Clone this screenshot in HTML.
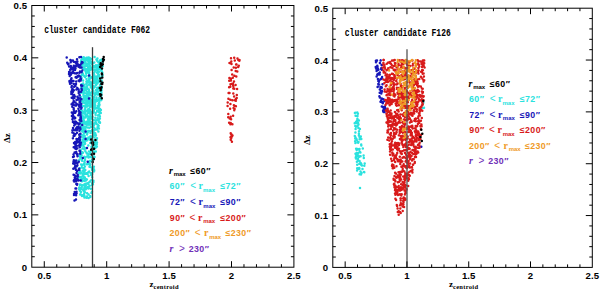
<!DOCTYPE html>
<html><head><meta charset="utf-8"><style>
html,body{margin:0;padding:0;background:#fff;width:600px;height:294px;overflow:hidden}
svg{display:block}
.tl{font-family:"Liberation Sans", sans-serif;font-weight:bold;font-size:9.6px;letter-spacing:0.1px}
.tly{font-size:9.6px}
.ti{font-family:"Liberation Mono", monospace;font-weight:bold;font-size:10px}
.ax{font-family:"Liberation Serif", serif;font-weight:bold;font-size:9px}
.sub{font-size:6.5px;letter-spacing:0.3px}
.lg{font-family:"Liberation Sans", sans-serif;font-weight:bold;font-size:8.8px;letter-spacing:0.45px}
.lt{font-size:10px;font-weight:normal;letter-spacing:0}
.li{font-style:italic}
.lr{font-family:"Liberation Serif", serif;font-weight:bold;font-size:10px}
.lm{font-family:"Liberation Sans", sans-serif;font-weight:bold;font-size:6px}
</style></head><body>
<svg width="600" height="294" viewBox="0 0 600 294">
<path stroke="#2ae2de" stroke-width="2.5" stroke-linecap="round" fill="none" d="M98.3 73.6h0M87.3 106.4h0M94.7 100.7h0M98.7 125.8h0M89.6 105.7h0M86.6 121.7h0M81.9 110.6h0M91.0 68.7h0M84.8 76.4h0M94.0 66.5h0M99.1 119.4h0M99.6 109.9h0M90.2 93.1h0M99.3 105.5h0M86.3 75.8h0M94.3 82.9h0M94.2 77.6h0M90.4 69.9h0M91.2 68.0h0M86.9 91.8h0M91.2 77.4h0M86.0 72.5h0M97.8 118.2h0M94.2 70.0h0M86.1 72.3h0M92.7 63.2h0M85.6 103.3h0M98.7 107.0h0M87.3 88.3h0M85.2 70.1h0M86.5 89.3h0M87.8 127.5h0M98.0 69.3h0M88.7 71.9h0M86.6 94.0h0M91.2 77.6h0M83.3 59.0h0M83.7 111.6h0M88.1 81.2h0M89.6 94.7h0M89.8 121.1h0M101.3 92.1h0M94.3 108.6h0M95.3 82.4h0M100.2 60.4h0M81.7 100.9h0M82.1 112.7h0M96.7 129.5h0M92.0 91.8h0M84.1 88.1h0M102.4 75.8h0M95.6 108.4h0M99.3 94.8h0M99.0 121.3h0M94.6 128.5h0M87.1 102.0h0M81.0 61.9h0M83.6 96.2h0M91.6 69.1h0M88.4 96.9h0M96.2 107.8h0M88.8 121.5h0M97.7 67.4h0M81.5 87.2h0M102.4 73.0h0M81.2 60.3h0M87.7 103.7h0M84.4 59.7h0M85.3 88.2h0M89.7 118.4h0M93.6 86.2h0M101.3 93.8h0M90.3 116.1h0M92.1 84.3h0M92.5 116.7h0M85.7 123.1h0M99.9 118.5h0M84.0 117.4h0M88.0 72.6h0M89.9 107.1h0M87.7 57.8h0M94.2 81.6h0M90.1 113.8h0M91.4 113.4h0M98.4 111.7h0M101.6 90.3h0M82.2 90.3h0M82.7 116.0h0M91.3 77.2h0M93.5 88.3h0M81.0 126.5h0M86.4 69.4h0M96.0 65.2h0M83.5 126.9h0M84.2 67.0h0M97.9 115.6h0M89.7 61.1h0M96.1 85.1h0M94.9 103.7h0M87.6 94.6h0M91.2 83.8h0M87.7 59.5h0M98.3 74.8h0M87.1 87.1h0M85.7 117.3h0M97.1 78.4h0M92.1 88.5h0M95.8 92.6h0M81.7 61.9h0M82.9 128.3h0M86.9 124.1h0M97.2 60.5h0M90.2 65.9h0M98.7 115.6h0M90.2 110.1h0M88.8 61.8h0M83.8 113.5h0M88.0 116.2h0M80.3 106.8h0M82.1 65.1h0M84.0 61.8h0M86.6 96.0h0M87.6 105.6h0M89.2 123.2h0M89.1 90.4h0M92.6 88.6h0M83.7 90.6h0M97.1 110.9h0M82.1 87.5h0M95.3 79.2h0M86.2 65.8h0M86.0 69.3h0M85.3 62.8h0M100.1 109.1h0M97.7 119.1h0M83.7 75.5h0M89.0 124.8h0M83.9 86.4h0M99.0 103.1h0M93.7 66.0h0M89.1 110.2h0M88.2 110.4h0M97.4 88.2h0M93.8 67.4h0M101.4 84.1h0M89.4 127.7h0M85.8 124.2h0M92.8 90.5h0M85.6 96.1h0M100.2 112.2h0M88.2 119.7h0M102.6 75.6h0M96.4 99.3h0M94.7 71.7h0M93.3 123.6h0M90.2 59.6h0M96.2 100.1h0M95.8 80.4h0M99.3 66.7h0M93.2 77.2h0M92.5 100.9h0M100.2 84.8h0M90.7 87.2h0M80.8 97.0h0M88.4 113.0h0M86.5 104.8h0M83.5 85.6h0M93.4 100.2h0M89.6 75.6h0M97.4 89.6h0M87.2 122.5h0M88.4 92.9h0M86.9 111.5h0M89.7 103.3h0M80.6 76.0h0M84.7 109.5h0M89.6 79.0h0M92.3 89.2h0M92.9 77.3h0M96.9 79.5h0M88.5 61.7h0M81.6 75.2h0M88.3 124.0h0M97.2 68.1h0M87.2 98.4h0M85.3 61.0h0M93.1 76.5h0M99.8 78.2h0M97.1 69.7h0M99.8 90.5h0M87.1 97.9h0M91.1 105.5h0M101.8 65.9h0M82.9 102.4h0M96.5 100.7h0M94.6 57.1h0M99.5 98.9h0M100.8 113.1h0M86.4 81.6h0M89.0 102.9h0M98.7 82.1h0M81.9 117.9h0M92.7 102.8h0M87.3 85.5h0M88.3 94.9h0M95.1 122.9h0M99.8 89.9h0M100.0 122.8h0M94.1 77.8h0M87.0 100.1h0M81.1 88.6h0M99.6 61.7h0M92.6 102.3h0M84.0 121.0h0M88.4 81.1h0M81.6 118.9h0M97.3 76.2h0M101.6 80.5h0M85.5 89.7h0M90.8 86.4h0M94.2 102.9h0M86.0 100.0h0M100.4 110.5h0M99.8 66.4h0M101.5 69.2h0M84.7 110.9h0M87.1 124.8h0M97.3 61.1h0M94.0 93.6h0M87.1 110.9h0M81.8 72.1h0M86.2 87.4h0M85.4 129.3h0M83.0 84.8h0M97.8 124.7h0M81.2 116.8h0M83.3 123.0h0M83.6 126.6h0M83.3 101.2h0M90.5 85.8h0M80.9 92.0h0M93.9 125.2h0M96.5 97.4h0M97.1 70.3h0M83.5 98.6h0M83.2 119.0h0M95.3 100.5h0M89.1 80.0h0M89.1 91.7h0M84.3 60.8h0M80.5 78.3h0M94.1 112.3h0M101.5 81.5h0M87.0 122.3h0M86.7 64.3h0M85.6 110.6h0M101.5 95.5h0M92.5 127.1h0M94.3 81.4h0M83.8 68.2h0M94.8 105.8h0M99.3 71.4h0M83.5 58.9h0M102.0 76.7h0M86.4 83.6h0M94.2 75.1h0M84.4 100.0h0M92.3 117.8h0M100.1 110.2h0M95.6 114.8h0M85.9 72.0h0M91.9 95.6h0M102.7 61.8h0M81.7 114.0h0M89.5 77.8h0M88.4 103.5h0M81.6 84.2h0M92.4 107.4h0M98.1 108.2h0M98.1 92.1h0M86.5 78.9h0M100.0 112.6h0M81.9 91.6h0M85.1 109.2h0M90.5 115.5h0M92.3 104.1h0M85.6 65.3h0M88.8 89.5h0M100.9 100.3h0M89.1 63.9h0M84.3 88.8h0M90.7 58.7h0M81.5 60.0h0M101.1 91.8h0M99.2 87.8h0M83.4 95.1h0M87.8 100.8h0M94.1 106.8h0M95.1 67.2h0M83.3 84.7h0M96.6 67.3h0M98.8 72.0h0M91.5 84.3h0M90.5 99.1h0M99.9 86.5h0M93.7 102.2h0M90.0 58.2h0M97.7 128.3h0M90.4 97.7h0M95.3 105.5h0M93.5 126.4h0M87.4 60.5h0M92.7 112.9h0M98.6 120.6h0M95.7 112.9h0M91.0 124.2h0M91.6 68.1h0M101.8 88.6h0M87.4 58.4h0M89.5 75.1h0M82.9 74.5h0M80.3 120.1h0M86.7 59.3h0M101.2 82.9h0M97.8 65.8h0M91.3 100.0h0M96.4 59.6h0M84.5 58.3h0M85.3 70.8h0M97.8 65.2h0M98.3 99.6h0M88.2 109.3h0M94.1 78.8h0M85.4 103.0h0M99.3 76.8h0M86.6 57.8h0M100.7 80.7h0M99.0 61.8h0M95.9 93.2h0M99.2 102.8h0M99.3 74.9h0M93.8 82.6h0M91.9 82.6h0M85.3 70.1h0M99.1 66.0h0M84.8 127.0h0M88.6 122.7h0M90.7 102.3h0M87.0 114.7h0M91.0 67.4h0M88.9 77.2h0M98.5 65.0h0M92.2 101.2h0M86.6 83.7h0M94.1 99.2h0M98.2 119.7h0M89.8 121.4h0M89.1 72.9h0M87.2 65.6h0M81.2 67.3h0M88.0 118.6h0M90.8 92.9h0M84.9 77.1h0M80.1 127.5h0M83.7 127.0h0M98.9 128.6h0M88.4 94.6h0M97.3 111.2h0M81.2 113.3h0M89.1 79.0h0M101.2 98.6h0M89.2 84.6h0M84.6 89.7h0M83.3 89.6h0M86.9 115.4h0M98.8 122.0h0M82.2 58.0h0M83.6 93.9h0M97.3 73.1h0M84.7 98.7h0M89.8 94.7h0M98.3 62.2h0M84.0 62.4h0M98.9 121.5h0M98.9 62.6h0M88.4 100.1h0M83.7 57.2h0M85.1 68.5h0M98.4 87.8h0M88.4 59.1h0M97.2 87.7h0M99.5 104.7h0M96.1 90.0h0M81.6 78.1h0M101.5 59.9h0M89.0 110.7h0M91.7 126.9h0M84.4 122.3h0M94.0 97.0h0M86.3 64.4h0M89.8 92.7h0M90.8 121.8h0M102.0 65.9h0M99.9 122.2h0M85.4 97.7h0M91.6 61.8h0M89.0 76.1h0M94.0 73.1h0M90.6 124.4h0M99.7 68.8h0M83.6 119.6h0M90.9 58.9h0M99.0 94.4h0M80.6 93.0h0M89.2 72.5h0M97.1 119.9h0M88.6 68.6h0M93.2 91.8h0M93.1 78.1h0M84.9 113.2h0M99.8 79.1h0M81.3 123.4h0M92.1 77.8h0M85.9 126.9h0M97.4 58.4h0M95.0 120.2h0M87.5 97.3h0M99.1 114.6h0M82.6 112.9h0M88.8 57.6h0M80.4 124.5h0M91.0 118.8h0M91.4 103.7h0M81.1 78.1h0M82.4 92.3h0M98.7 100.6h0M96.4 123.9h0M101.3 70.1h0M84.2 61.7h0M100.5 60.1h0M87.4 81.3h0M82.9 73.6h0M85.5 70.0h0M82.7 106.1h0M97.4 83.5h0M90.0 122.5h0M81.2 128.0h0M97.1 72.5h0M91.8 64.0h0M82.0 115.9h0M91.3 117.3h0M85.8 102.5h0M94.7 86.9h0M84.6 92.8h0M80.3 121.9h0M86.3 96.0h0M100.5 96.0h0M102.6 59.6h0M87.9 82.3h0M93.5 110.8h0M84.2 105.9h0M98.3 94.6h0M98.6 104.0h0M80.2 115.4h0M82.5 64.0h0M99.0 110.2h0M96.3 82.0h0M84.7 100.0h0M86.1 73.5h0M99.3 94.7h0M99.8 116.2h0M86.5 98.0h0M92.8 124.0h0M88.6 71.1h0M94.5 71.7h0M84.0 120.9h0M94.4 79.3h0M89.8 81.4h0M99.3 97.8h0M96.8 91.5h0M100.6 68.8h0M89.4 101.4h0M99.3 65.1h0M83.8 75.7h0M85.3 107.9h0M87.3 81.1h0M87.7 94.0h0M91.0 126.9h0M87.8 66.4h0M86.6 124.8h0M83.4 64.6h0M94.8 95.3h0M95.3 117.7h0M97.2 99.4h0M83.1 80.5h0M86.6 63.8h0M90.0 123.6h0M80.6 115.5h0M93.2 73.9h0M79.9 123.9h0M85.9 105.6h0M82.6 119.2h0M97.0 101.0h0M96.7 78.3h0M89.4 112.1h0M84.0 76.1h0M96.6 108.2h0M101.4 87.2h0M97.7 108.2h0M91.5 100.2h0M93.4 97.4h0M87.9 67.0h0M87.2 72.0h0M99.9 116.2h0M87.9 63.8h0M87.4 121.9h0M84.2 86.5h0M91.5 112.1h0M93.4 120.3h0M88.9 110.8h0M87.1 99.2h0M85.1 128.7h0M100.3 68.3h0M99.5 63.7h0M82.0 121.7h0M100.9 109.9h0M90.7 67.8h0M90.4 67.2h0M93.1 81.0h0M89.9 110.4h0M86.0 97.8h0M93.8 110.6h0M95.3 76.5h0M89.2 61.0h0M102.8 66.2h0M90.5 124.4h0M81.0 104.2h0M88.8 98.2h0M88.9 92.3h0M85.2 117.4h0M101.4 92.6h0M82.2 65.5h0M96.6 67.8h0M86.9 114.4h0M91.9 86.3h0M90.6 62.9h0M100.4 98.9h0M101.7 86.9h0M83.2 68.9h0M86.2 89.7h0M97.3 94.5h0M98.0 106.1h0M98.3 126.4h0M90.8 122.4h0M93.4 90.9h0M99.5 98.4h0M93.5 129.7h0M95.4 93.9h0M91.8 88.2h0M81.3 111.0h0M87.7 124.2h0M94.0 105.3h0M86.0 111.1h0M95.3 102.2h0M95.3 70.1h0M89.1 117.9h0M87.4 69.1h0M89.3 109.0h0M97.5 127.3h0M91.2 100.0h0M92.6 86.0h0M101.7 80.8h0M94.3 62.5h0M83.7 123.6h0M88.2 69.6h0M102.5 60.7h0M85.4 87.2h0M84.5 85.3h0M89.9 100.0h0M102.0 71.6h0M99.1 100.7h0M89.1 97.9h0M89.1 82.4h0M85.5 115.4h0M81.3 85.1h0M95.9 122.2h0M89.8 66.0h0M81.3 121.2h0M90.8 111.9h0M84.5 92.3h0M99.9 67.8h0M101.4 99.8h0M98.5 80.7h0M84.4 103.0h0M83.2 83.4h0M98.8 80.4h0M97.7 68.9h0M94.2 78.9h0M82.5 86.7h0M94.7 129.6h0M90.3 197.1h0M86.9 153.4h0M81.6 153.2h0M84.4 185.2h0M81.2 156.5h0M87.8 186.9h0M82.7 189.5h0M81.0 184.7h0M94.9 142.5h0M84.9 166.4h0M83.9 130.7h0M84.5 184.2h0M86.9 196.5h0M93.3 134.6h0M89.2 171.6h0M88.6 176.0h0M82.1 160.8h0M78.8 173.1h0M87.1 193.3h0M84.4 180.9h0M84.4 197.5h0M80.9 192.1h0M83.1 141.8h0M92.7 130.9h0M86.1 179.5h0M89.1 162.7h0M88.2 172.2h0M96.9 146.4h0M84.9 185.9h0M88.3 188.6h0M95.1 144.7h0M87.8 138.6h0M96.7 146.8h0M87.7 132.5h0M85.2 173.5h0M82.1 159.9h0M85.2 140.5h0M92.4 145.1h0M84.7 136.0h0M83.8 164.0h0M90.0 165.3h0M95.2 133.2h0M92.0 147.3h0M85.1 143.7h0M88.5 155.0h0M94.5 137.5h0M91.0 161.0h0M92.1 177.2h0M91.3 180.3h0M81.1 164.5h0M81.0 146.0h0M88.3 145.4h0M95.4 142.5h0M92.0 185.2h0M90.3 153.8h0M93.8 171.4h0M82.4 152.3h0M83.9 178.1h0M83.0 130.1h0M81.1 172.4h0M79.6 159.5h0M84.1 194.0h0M90.9 188.8h0M93.7 170.1h0M93.4 180.7h0M85.8 173.8h0M91.4 156.8h0M84.6 171.1h0M93.4 182.1h0M88.1 182.9h0M96.3 140.1h0M90.0 181.4h0M92.5 140.6h0M79.8 138.0h0M94.2 143.1h0M85.8 189.2h0M79.6 176.8h0M86.4 187.3h0M92.9 159.0h0M84.1 173.7h0M88.2 162.8h0M91.5 161.3h0M86.9 179.5h0M80.5 150.2h0M84.2 191.1h0M81.2 142.2h0M89.7 161.0h0M89.6 185.8h0M98.4 131.6h0M84.3 188.8h0M87.3 140.2h0M90.5 137.7h0M82.5 144.0h0M80.0 190.7h0M82.6 174.3h0M92.0 159.6h0M84.2 196.6h0M79.0 142.1h0M78.7 177.5h0M89.9 131.1h0M85.0 147.9h0M94.6 130.1h0M85.6 148.4h0M92.1 150.1h0M89.7 139.0h0M83.2 137.4h0M94.5 156.9h0M85.3 170.0h0M82.9 152.8h0M80.8 157.2h0M91.5 193.0h0M92.1 183.3h0M80.0 139.9h0M88.5 154.3h0M90.3 164.3h0M96.8 144.0h0M84.6 162.8h0M80.1 173.5h0M82.7 139.8h0M85.0 143.3h0M80.4 172.1h0M81.2 164.7h0M90.5 132.9h0M85.4 157.6h0M93.4 170.6h0M90.0 137.3h0M80.7 154.2h0M84.0 137.7h0M79.2 189.2h0M84.5 164.0h0M86.9 132.7h0M94.0 169.6h0M90.5 156.9h0M83.2 145.7h0M95.3 146.9h0M83.8 174.4h0M93.2 158.0h0M80.3 155.2h0M92.0 191.8h0M90.8 137.4h0M88.5 157.6h0M82.3 131.6h0M93.9 153.6h0M80.7 150.5h0M88.3 184.1h0M88.6 198.0h0M84.3 156.8h0M93.3 130.9h0M83.6 168.3h0M97.0 138.3h0M93.6 132.2h0M95.4 148.0h0M80.9 177.4h0M79.6 171.6h0M93.3 133.9h0M87.1 187.8h0M90.7 140.2h0M84.2 132.6h0M88.6 194.6h0M83.4 164.4h0M86.5 197.8h0M88.5 163.8h0M87.5 174.0h0M92.1 130.3h0M83.9 174.1h0M82.0 195.9h0M87.0 164.3h0M87.1 134.5h0M90.5 136.3h0M94.2 151.4h0M90.7 173.3h0M81.0 157.6h0M93.2 150.6h0M83.3 145.2h0M85.9 180.6h0M94.6 147.6h0M93.9 130.4h0M83.9 140.2h0M79.9 185.0h0M84.4 149.3h0M93.5 140.7h0M82.1 189.3h0M84.6 132.8h0M93.6 148.8h0M85.0 179.2h0M83.6 146.3h0M89.5 166.8h0M93.7 135.3h0M83.8 133.0h0M93.4 167.7h0M85.9 140.7h0M86.2 131.4h0M89.0 151.5h0M90.7 151.6h0M80.3 138.4h0M80.1 184.4h0M92.2 173.9h0M91.5 167.5h0M91.7 148.0h0M81.8 187.0h0M92.2 168.0h0M84.4 195.9h0M88.5 154.9h0M87.3 156.3h0M81.6 155.2h0M94.2 170.7h0M91.1 173.2h0M93.8 143.5h0M83.8 157.8h0M86.2 183.6h0M79.2 187.5h0M92.0 169.8h0M84.4 161.8h0M96.7 139.6h0M91.2 139.2h0M83.6 177.0h0M88.4 156.2h0M89.6 138.7h0M83.3 190.2h0M83.3 171.5h0M81.9 165.6h0M92.9 184.3h0M80.2 194.6h0M85.1 159.9h0M95.9 135.6h0M89.6 163.4h0M81.7 142.0h0M90.5 131.6h0M91.9 156.3h0M82.8 140.2h0M97.0 142.6h0M84.8 138.4h0M88.4 137.4h0M89.6 166.2h0M93.1 142.8h0M91.2 142.4h0M83.9 168.2h0M90.3 142.9h0M95.5 134.3h0M82.5 185.2h0M82.5 148.6h0M88.3 155.9h0M80.3 157.3h0M84.1 135.2h0M90.0 138.5h0M90.4 196.3h0M94.5 157.1h0M82.4 135.2h0M82.1 195.2h0M94.0 156.6h0M86.5 152.7h0M80.6 188.5h0M78.6 160.5h0M92.6 184.2h0M87.7 131.5h0M80.3 179.9h0M85.8 138.3h0M84.9 192.2h0M80.5 194.3h0M84.0 132.0h0M82.9 173.8h0M93.0 132.2h0M79.6 168.2h0M84.7 132.3h0M83.9 191.6h0M84.9 177.5h0M83.9 141.0h0M89.6 182.1h0M86.3 179.3h0M81.0 135.3h0M84.4 187.6h0M82.6 180.3h0M84.5 173.9h0M85.5 185.4h0M84.5 172.3h0M93.3 159.6h0M92.5 136.6h0M84.9 143.1h0M93.9 166.7h0M82.3 176.5h0M81.8 167.6h0M86.9 173.3h0M78.7 155.5h0M85.4 151.3h0M88.8 187.9h0M82.0 144.3h0M95.8 151.4h0M80.9 130.1h0M82.0 181.2h0M84.2 168.6h0M92.7 146.5h0M85.9 185.1h0M83.1 170.4h0M80.3 171.0h0M88.3 131.0h0M91.5 146.8h0M82.1 179.2h0M90.2 140.0h0M87.0 173.3h0M91.2 175.1h0"/>
<path stroke="#1616b8" stroke-width="2.5" stroke-linecap="round" fill="none" d="M74.6 152.4h0M81.2 104.1h0M81.5 86.2h0M73.8 160.3h0M81.6 67.5h0M76.5 172.9h0M73.0 71.8h0M74.9 167.5h0M74.5 200.5h0M81.5 63.4h0M74.3 95.5h0M73.6 136.1h0M76.2 149.0h0M81.1 108.4h0M76.5 143.0h0M79.9 101.2h0M69.5 81.8h0M75.3 148.4h0M68.5 64.0h0M78.7 169.4h0M75.9 121.8h0M73.8 180.8h0M75.4 146.8h0M78.4 108.7h0M79.2 81.2h0M76.0 181.2h0M80.1 127.4h0M73.8 90.3h0M81.0 78.9h0M79.8 134.2h0M82.6 62.5h0M80.8 105.7h0M72.3 106.8h0M80.7 116.3h0M75.3 175.7h0M76.6 77.0h0M76.7 103.9h0M73.0 91.4h0M79.5 95.1h0M75.5 68.4h0M76.1 195.3h0M74.7 163.9h0M79.9 139.6h0M75.0 70.1h0M76.0 84.1h0M76.0 153.1h0M77.3 148.2h0M79.4 57.3h0M73.5 81.0h0M74.2 86.7h0M80.2 153.8h0M69.1 71.9h0M71.7 97.8h0M80.9 107.1h0M79.7 95.5h0M78.3 139.5h0M73.3 69.5h0M73.3 115.9h0M75.9 66.3h0M71.4 69.2h0M76.2 188.6h0M77.2 127.0h0M74.8 177.6h0M76.0 170.0h0M80.3 102.3h0M74.2 162.0h0M76.6 193.2h0M79.2 168.7h0M76.9 104.4h0M73.2 163.4h0M71.6 86.7h0M72.6 73.0h0M69.1 66.5h0M81.9 61.9h0M79.7 123.4h0M74.2 180.1h0M73.9 156.6h0M74.4 98.0h0M73.5 161.8h0M78.2 128.4h0M75.5 168.4h0M78.3 127.0h0M80.5 112.4h0M79.2 169.7h0M74.2 125.5h0M79.5 91.6h0M79.0 104.5h0M76.3 111.2h0M80.3 114.8h0M75.9 128.4h0M73.0 128.0h0M78.3 115.3h0M72.5 88.7h0M80.9 118.4h0M80.8 117.2h0M70.2 69.8h0M77.0 154.1h0M73.4 95.1h0M74.7 117.4h0M73.1 121.5h0M76.5 139.0h0M79.6 120.0h0M74.5 135.8h0M72.6 103.3h0M74.7 118.4h0M75.3 142.0h0M78.8 142.3h0M82.3 70.6h0M80.1 79.9h0M79.7 106.8h0M75.5 162.3h0M73.0 114.0h0M73.3 96.2h0M80.6 78.4h0M75.8 144.9h0M76.2 160.5h0M74.1 122.9h0M75.8 176.5h0M70.8 66.1h0M80.2 142.4h0M78.7 145.6h0M82.3 85.7h0M77.1 163.2h0M70.7 62.3h0M79.1 110.8h0M79.4 114.5h0M80.4 128.9h0M73.1 90.8h0M81.6 107.8h0M71.3 60.6h0M77.3 88.0h0M81.0 108.8h0M75.2 112.8h0M73.1 98.5h0M73.9 133.5h0M76.2 129.0h0M73.3 68.0h0M79.5 150.8h0M79.6 101.9h0M79.1 80.9h0M73.8 65.8h0M77.8 97.5h0M74.8 167.5h0M79.5 91.7h0M77.0 59.3h0M75.5 86.0h0M77.0 154.5h0M71.8 85.9h0M78.7 80.6h0M76.5 191.7h0M79.9 143.0h0M74.8 73.2h0M79.8 147.3h0M75.3 146.8h0M78.7 91.3h0M78.4 162.3h0M73.6 130.0h0M75.0 146.8h0M73.7 147.2h0M75.7 66.3h0M70.8 74.8h0M78.7 92.9h0M79.8 65.3h0M72.4 132.4h0M80.5 99.2h0M72.9 60.5h0M77.5 122.9h0M78.8 75.6h0M67.2 62.8h0M71.3 91.9h0M73.0 91.8h0M77.3 141.4h0M75.5 144.7h0M78.6 89.5h0M80.2 91.8h0M77.5 154.1h0M68.0 64.2h0M80.4 113.1h0M71.1 79.2h0M79.3 145.4h0M77.8 76.7h0M69.0 74.0h0M72.9 121.9h0M75.4 102.6h0M70.0 83.7h0M76.9 129.9h0M73.6 66.7h0M79.4 130.7h0M73.0 117.3h0M80.4 118.1h0M72.1 89.9h0M77.5 156.3h0M76.3 73.6h0M73.0 157.1h0M74.9 178.9h0M73.5 154.4h0M71.3 67.9h0M77.2 63.3h0M78.0 179.4h0M77.4 61.5h0M82.1 86.0h0M76.1 77.0h0M78.0 75.9h0M76.5 77.7h0M74.5 112.8h0M66.7 57.6h0M80.4 137.1h0M75.6 61.9h0M72.9 112.4h0M80.4 133.7h0M78.8 66.7h0M72.2 72.4h0M74.0 194.9h0M72.0 92.9h0M80.0 98.2h0M72.7 113.4h0M76.7 178.9h0M75.2 166.0h0M81.6 89.0h0M75.1 121.6h0M74.4 143.4h0M77.1 170.9h0M71.3 94.0h0M71.0 67.0h0M74.0 143.0h0M79.6 66.2h0M78.4 180.4h0M78.6 66.7h0M72.9 138.2h0M79.4 72.7h0M73.9 180.5h0M73.7 109.6h0M81.1 91.7h0M79.9 140.1h0M79.1 105.9h0M74.2 181.5h0M76.0 162.7h0M79.8 120.6h0M79.7 151.1h0M73.6 90.8h0M71.5 92.7h0M74.0 135.3h0M76.8 166.2h0M70.4 59.9h0M75.6 77.3h0M77.9 139.7h0M73.7 61.7h0M80.4 114.5h0M80.4 76.7h0M77.7 180.2h0M80.0 71.4h0M80.8 80.5h0M77.1 73.0h0M81.0 104.5h0M77.0 178.8h0M79.9 67.4h0M74.8 96.6h0M75.5 188.4h0M75.2 193.3h0M78.8 161.8h0M74.7 192.0h0M73.3 102.5h0M71.5 78.2h0M78.0 99.6h0M73.3 168.8h0M71.9 116.1h0M77.4 96.7h0M72.0 116.3h0M73.6 174.8h0M73.6 104.8h0M76.7 141.2h0M81.5 99.2h0M77.0 132.8h0M76.1 152.6h0M74.8 68.3h0M71.6 104.3h0M81.0 57.1h0M81.3 121.1h0M74.1 95.0h0M74.8 175.4h0M76.4 89.4h0M75.9 63.6h0M71.8 90.6h0M81.8 89.9h0M79.0 65.1h0M73.8 84.1h0M79.2 113.3h0M71.8 81.2h0M75.0 130.3h0M78.1 139.0h0M75.6 162.7h0M76.2 152.1h0M76.3 183.9h0M81.5 72.3h0M69.5 81.0h0M77.8 175.0h0M77.5 63.9h0M79.8 150.9h0M77.0 65.5h0M75.2 105.5h0M80.1 151.8h0M69.7 76.1h0M77.8 176.4h0M79.3 111.6h0M73.7 90.4h0M78.8 124.6h0M80.3 64.9h0M72.4 119.2h0M78.4 124.0h0M77.2 183.9h0M78.7 124.1h0M74.0 193.9h0M74.4 160.5h0M77.0 184.8h0M75.2 117.9h0M77.4 165.3h0M76.0 199.4h0M73.7 108.3h0M76.6 146.0h0M73.9 101.9h0M81.1 85.3h0M71.4 82.9h0M72.4 81.1h0M79.2 134.8h0M75.5 134.3h0M76.5 99.9h0M73.7 100.9h0M71.5 87.3h0M76.0 147.7h0M78.2 76.3h0M71.8 112.4h0M70.5 72.4h0M81.1 120.6h0M79.2 137.6h0M80.5 144.7h0M75.5 124.2h0M72.4 130.3h0M76.2 81.6h0M76.2 105.6h0M74.0 111.3h0M82.2 125.0h0M80.9 142.8h0M89.0 98.5h0M85.6 131.5h0M85.6 139.1h0M80.7 180.6h0M87.0 148.1h0M87.7 161.8h0M82.8 158.0h0M89.0 75.5h0"/>
<path stroke="#000" stroke-width="2.5" stroke-linecap="round" fill="none" d="M103.7 57.1h0M103.0 59.0h0M100.7 63.2h0M103.4 60.3h0M102.8 64.3h0M101.9 64.9h0M100.6 64.6h0M103.0 61.5h0M103.2 59.1h0M103.9 59.8h0M100.9 63.6h0M102.9 61.6h0M100.7 90.2h0M100.0 94.2h0M100.8 88.9h0M100.5 81.3h0M101.4 84.0h0M101.8 73.6h0M102.3 77.6h0M100.2 78.4h0M102.1 74.5h0M100.5 88.7h0M100.5 96.0h0M99.8 88.0h0M102.0 68.5h0M101.8 98.2h0M102.2 83.9h0M100.1 66.9h0M101.8 65.6h0M101.2 94.7h0M102.5 82.7h0M101.5 87.3h0M93.8 159.0h0M93.2 144.7h0M91.7 154.4h0M95.4 140.1h0M94.0 153.7h0M91.1 149.8h0M93.0 142.5h0M92.5 148.7h0M91.7 142.7h0M94.1 148.7h0M91.2 139.6h0M93.1 142.7h0M93.5 159.3h0M92.4 143.5h0M92.7 162.1h0M93.2 158.7h0"/>
<path stroke="#d81a1a" stroke-width="2.5" stroke-linecap="round" fill="none" d="M231.5 64.1h0M236.3 76.4h0M229.4 77.9h0M232.8 77.7h0M234.4 75.7h0M231.6 69.9h0M232.2 74.4h0M238.2 66.9h0M235.7 70.9h0M231.3 61.4h0M239.4 60.7h0M239.5 60.5h0M238.3 60.1h0M234.8 60.6h0M236.1 64.5h0M230.9 78.8h0M229.5 63.0h0M238.8 65.8h0M233.7 67.4h0M237.3 71.6h0M236.5 64.4h0M235.9 67.7h0M233.3 88.6h0M229.5 92.9h0M229.2 80.8h0M227.6 105.9h0M235.6 85.0h0M232.2 83.7h0M234.8 100.3h0M234.1 105.8h0M234.6 109.0h0M234.4 105.7h0M229.1 87.3h0M236.8 95.0h0M233.6 108.1h0M236.0 98.9h0M237.1 89.1h0M230.1 108.7h0M233.1 85.8h0M235.9 106.3h0M231.0 80.6h0M234.3 88.7h0M227.7 102.5h0M230.3 86.8h0M236.7 97.9h0M230.4 103.9h0M233.3 86.2h0M233.9 105.2h0M233.0 83.8h0M234.0 81.4h0M235.6 85.1h0M235.7 99.2h0M228.4 98.8h0M230.5 84.2h0M230.3 99.8h0M228.6 93.1h0M234.1 96.5h0M233.3 93.6h0M232.4 100.2h0M235.9 100.8h0M230.7 123.1h0M233.1 115.8h0M231.1 134.5h0M231.1 119.2h0M232.4 124.3h0M228.3 113.9h0M230.7 139.8h0M232.5 135.6h0M230.7 116.7h0M229.1 122.7h0M228.2 117.3h0M231.6 134.6h0M230.4 124.2h0M234.3 110.2h0M229.7 118.6h0M231.9 136.4h0M230.7 133.2h0M230.5 137.2h0M231.0 58.2h0M234.2 57.8h0M237.5 58.6h0M239.5 60.0h0M231.9 141.8h0M231.2 138.2h0"/>
<path d="M92.5 47.2V267.2" stroke="#3a3a3a" stroke-width="1.3"/>
<rect x="31.8" y="5.5" width="262.09999999999997" height="261.7" fill="none" stroke="#000" stroke-width="1"/>
<path d="M44.28 267.2v-6M44.28 5.5v6M56.76 267.2v-3M56.76 5.5v3M69.24 267.2v-3M69.24 5.5v3M81.72 267.2v-3M81.72 5.5v3M94.20 267.2v-3M94.20 5.5v3M106.69 267.2v-6M106.69 5.5v6M119.17 267.2v-3M119.17 5.5v3M131.65 267.2v-3M131.65 5.5v3M144.13 267.2v-3M144.13 5.5v3M156.61 267.2v-3M156.61 5.5v3M169.09 267.2v-6M169.09 5.5v6M181.57 267.2v-3M181.57 5.5v3M194.05 267.2v-3M194.05 5.5v3M206.53 267.2v-3M206.53 5.5v3M219.01 267.2v-3M219.01 5.5v3M231.50 267.2v-6M231.50 5.5v6M243.98 267.2v-3M243.98 5.5v3M256.46 267.2v-3M256.46 5.5v3M268.94 267.2v-3M268.94 5.5v3M281.42 267.2v-3M281.42 5.5v3M31.8 256.73h3M293.9 256.73h-3M31.8 246.26h3M293.9 246.26h-3M31.8 235.80h3M293.9 235.80h-3M31.8 225.33h3M293.9 225.33h-3M31.8 214.86h6.5M293.9 214.86h-6.5M31.8 204.39h3M293.9 204.39h-3M31.8 193.92h3M293.9 193.92h-3M31.8 183.46h3M293.9 183.46h-3M31.8 172.99h3M293.9 172.99h-3M31.8 162.52h6.5M293.9 162.52h-6.5M31.8 152.05h3M293.9 152.05h-3M31.8 141.58h3M293.9 141.58h-3M31.8 131.12h3M293.9 131.12h-3M31.8 120.65h3M293.9 120.65h-3M31.8 110.18h6.5M293.9 110.18h-6.5M31.8 99.71h3M293.9 99.71h-3M31.8 89.24h3M293.9 89.24h-3M31.8 78.78h3M293.9 78.78h-3M31.8 68.31h3M293.9 68.31h-3M31.8 57.84h6.5M293.9 57.84h-6.5M31.8 47.37h3M293.9 47.37h-3M31.8 36.90h3M293.9 36.90h-3M31.8 26.44h3M293.9 26.44h-3M31.8 15.97h3M293.9 15.97h-3" stroke="#000" stroke-width="1" fill="none"/>
<text x="27.200000000000003" y="270.80" text-anchor="end" class="tl tly">0</text>
<text x="27.200000000000003" y="218.46" text-anchor="end" class="tl tly">0.1</text>
<text x="27.200000000000003" y="166.12" text-anchor="end" class="tl tly">0.2</text>
<text x="27.200000000000003" y="113.78" text-anchor="end" class="tl tly">0.3</text>
<text x="27.200000000000003" y="61.44" text-anchor="end" class="tl tly">0.4</text>
<text x="27.200000000000003" y="9.10" text-anchor="end" class="tl tly">0.5</text>
<text x="44.28" y="278.8" text-anchor="middle" class="tl">0.5</text>
<text x="106.69" y="278.8" text-anchor="middle" class="tl">1</text>
<text x="169.09" y="278.8" text-anchor="middle" class="tl">1.5</text>
<text x="231.50" y="278.8" text-anchor="middle" class="tl">2</text>
<text x="293.90" y="278.8" text-anchor="middle" class="tl">2.5</text>
<text x="44.2" y="33.2" class="ti" textLength="106" lengthAdjust="spacingAndGlyphs">cluster candidate F062</text>
<text transform="translate(9.5,138) rotate(-90)" class="ax" text-anchor="middle">&#916;z</text>
<text x="149.5" y="286.5" class="ax">z<tspan class="sub" dy="2.6">centroid</tspan></text>
<path stroke="#2ae2de" stroke-width="2.5" stroke-linecap="round" fill="none" d="M357.6 126.0h0M357.1 170.5h0M361.5 172.8h0M359.9 129.1h0M357.2 168.2h0M354.7 123.3h0M356.5 153.0h0M358.9 133.8h0M361.3 163.9h0M354.9 113.0h0M359.0 131.3h0M359.2 168.0h0M357.3 121.1h0M364.3 172.2h0M356.0 121.7h0M360.7 163.1h0M355.4 137.8h0M363.8 157.9h0M360.6 156.2h0M355.6 137.6h0M358.5 142.1h0M362.5 168.9h0M364.7 163.6h0M361.0 174.4h0M358.4 127.9h0M356.7 156.7h0M359.9 137.6h0M357.3 112.6h0M359.4 163.7h0M359.5 161.0h0M361.3 139.0h0M356.7 154.9h0M355.2 138.6h0M357.9 158.9h0M358.2 142.8h0M358.1 152.9h0M361.3 145.5h0M356.0 156.2h0M358.9 135.5h0M359.6 174.3h0M354.8 135.9h0M363.6 155.4h0M360.8 136.4h0M355.1 141.2h0M361.1 164.7h0M364.3 165.7h0M357.9 160.6h0M361.2 144.5h0M358.1 122.9h0M357.4 148.9h0M358.5 155.8h0M358.9 120.5h0M357.0 123.2h0M356.7 150.1h0M361.9 165.6h0M357.5 116.1h0M358.0 168.9h0M355.3 126.1h0M361.5 173.2h0M355.9 126.8h0M359.2 149.8h0M357.1 120.5h0M355.6 128.9h0M355.4 143.0h0M359.6 139.2h0M357.9 113.8h0M355.5 153.8h0M355.7 157.7h0M355.6 115.8h0M359.5 149.0h0M360.4 152.5h0M355.4 132.5h0M357.4 118.8h0M358.5 124.6h0M359.6 137.1h0M356.9 161.7h0M356.8 140.2h0M364.0 172.0h0M357.7 153.9h0M357.2 164.8h0M359.8 151.8h0M356.4 139.0h0M356.1 148.8h0M359.4 168.7h0M357.8 142.6h0M358.9 157.1h0M355.3 112.8h0M360.5 171.4h0M362.8 148.4h0M356.0 158.4h0M360.0 187.9h0M422.3 107.9h0M424.0 107.8h0M422.6 104.5h0M422.8 102.8h0M423.3 102.7h0"/>
<path stroke="#1616b8" stroke-width="2.5" stroke-linecap="round" fill="none" d="M381.4 68.1h0M381.8 69.8h0M378.7 73.9h0M376.6 76.4h0M383.5 99.3h0M381.8 90.8h0M380.7 60.6h0M383.1 110.6h0M383.7 108.4h0M377.5 66.7h0M381.3 93.5h0M381.8 101.9h0M376.0 68.5h0M384.1 110.9h0M377.7 74.8h0M383.7 112.1h0M376.6 70.9h0M380.6 60.6h0M379.1 84.4h0M379.9 62.9h0M384.5 101.1h0M377.8 86.8h0M375.9 60.8h0M380.4 87.0h0M379.8 72.4h0M379.8 89.6h0M379.8 97.5h0M377.0 60.5h0M382.1 77.0h0M382.5 84.3h0M377.6 86.9h0M377.3 74.4h0M375.7 67.1h0M376.2 61.7h0M378.9 81.8h0M378.3 84.0h0M383.2 111.5h0M381.5 78.4h0M380.3 79.5h0M381.8 87.7h0M381.8 106.4h0M379.4 96.2h0M381.8 98.4h0M382.1 91.5h0M381.8 78.5h0M378.4 74.1h0M381.6 65.1h0M384.9 106.8h0M382.0 65.0h0M377.9 79.0h0M381.2 100.2h0M380.5 101.8h0M381.4 78.8h0M381.1 68.9h0M377.3 65.8h0M382.6 103.1h0M381.1 91.1h0M379.7 92.8h0M385.6 108.4h0M378.3 81.1h0M385.6 108.9h0M382.9 102.5h0M379.7 74.4h0M376.0 62.2h0M378.0 68.9h0M380.9 87.7h0M384.6 111.9h0M383.7 110.5h0M378.0 68.8h0M381.6 87.3h0M378.4 69.7h0M383.1 107.3h0M383.0 106.9h0M382.8 103.3h0M378.8 73.3h0M421.3 146.7h0"/>
<path stroke="#d81a1a" stroke-width="2.5" stroke-linecap="round" fill="none" d="M397.7 150.3h0M412.7 102.1h0M412.5 115.8h0M396.6 84.6h0M417.1 106.0h0M386.5 79.1h0M415.1 92.0h0M383.7 72.4h0M400.3 190.6h0M401.4 102.9h0M391.0 63.8h0M413.0 107.2h0M408.6 76.9h0M387.9 98.0h0M401.4 72.1h0M422.3 102.4h0M402.2 143.8h0M402.6 99.1h0M408.7 129.4h0M418.9 115.8h0M408.6 161.1h0M400.8 198.5h0M412.5 97.1h0M404.9 106.8h0M402.4 166.8h0M388.9 101.9h0M390.4 116.2h0M403.4 131.4h0M387.4 112.7h0M419.8 111.7h0M407.0 146.4h0M390.7 88.3h0M415.8 91.7h0M384.4 67.2h0M391.8 78.0h0M407.0 178.3h0M409.1 154.7h0M413.6 102.1h0M410.1 163.6h0M418.9 120.3h0M392.6 83.4h0M404.3 179.3h0M408.4 132.0h0M419.3 122.9h0M389.4 125.3h0M396.9 84.2h0M394.0 160.3h0M411.8 96.1h0M400.8 129.3h0M404.5 119.2h0M422.7 65.7h0M416.9 105.5h0M398.7 214.7h0M400.4 80.8h0M401.2 138.2h0M406.6 128.5h0M389.3 140.5h0M396.7 143.3h0M383.8 60.1h0M395.4 120.3h0M415.5 147.7h0M409.0 114.1h0M398.4 97.0h0M402.7 62.4h0M405.7 192.9h0M406.8 168.2h0M398.8 177.3h0M383.5 79.4h0M415.2 108.6h0M401.1 184.3h0M391.4 143.4h0M409.7 148.8h0M383.3 64.5h0M420.9 109.5h0M416.4 126.6h0M424.2 60.5h0M417.4 104.3h0M407.3 65.0h0M406.5 106.7h0M399.9 194.5h0M399.6 117.4h0M404.7 99.3h0M404.8 187.2h0M401.7 189.8h0M405.0 120.1h0M400.4 114.5h0M395.1 146.2h0M419.7 142.7h0M419.0 99.3h0M403.3 107.8h0M403.7 164.2h0M397.9 195.0h0M407.1 110.8h0M394.8 155.7h0M423.9 76.4h0M406.2 106.3h0M398.2 94.1h0M384.3 83.2h0M389.7 105.3h0M415.7 146.7h0M391.1 126.7h0M399.0 189.7h0M395.4 198.7h0M413.9 85.2h0M407.9 157.3h0M386.8 116.0h0M406.0 150.0h0M409.9 139.4h0M394.2 101.1h0M402.8 165.8h0M397.5 146.7h0M412.0 167.3h0M417.7 60.3h0M408.3 164.0h0M413.3 88.1h0M393.9 184.2h0M401.7 110.2h0M400.2 122.5h0M408.9 166.4h0M407.5 116.7h0M396.0 192.3h0M400.9 118.3h0M404.4 166.1h0M399.9 127.2h0M412.4 126.8h0M407.6 166.6h0M395.1 133.7h0M389.7 95.1h0M396.2 177.7h0M407.0 91.2h0M416.0 82.9h0M418.5 144.6h0M400.5 61.4h0M405.4 132.3h0M403.8 145.5h0M399.1 188.1h0M391.3 101.8h0M420.2 138.5h0M411.5 135.6h0M397.3 74.8h0M400.9 85.4h0M419.5 121.0h0M404.1 119.5h0M397.0 129.8h0M408.8 81.2h0M424.2 63.2h0M416.0 157.0h0M393.7 118.7h0M386.6 111.0h0M405.9 100.3h0M402.5 144.7h0M393.8 79.9h0M407.4 65.0h0M410.1 154.8h0M413.6 72.7h0M395.1 147.8h0M412.7 65.5h0M412.6 159.3h0M399.0 60.2h0M413.8 79.8h0M402.1 95.8h0M390.2 113.2h0M418.0 71.9h0M397.7 65.8h0M405.9 91.0h0M402.6 127.9h0M398.8 91.0h0M401.3 161.7h0M411.5 102.5h0M407.1 119.9h0M405.1 117.1h0M419.5 147.0h0M392.7 155.5h0M410.8 108.8h0M401.8 142.1h0M394.7 75.3h0M404.6 67.8h0M397.4 118.1h0M400.8 174.8h0M418.9 138.7h0M387.2 110.5h0M399.0 117.6h0M395.4 128.5h0M398.9 105.2h0M399.3 181.8h0M410.8 70.2h0M409.1 175.1h0M396.9 144.0h0M400.0 194.3h0M395.9 173.5h0M395.2 180.5h0M400.5 139.4h0M414.5 68.6h0M391.5 113.6h0M401.8 172.1h0M404.4 126.7h0M415.7 121.2h0M422.3 110.8h0M394.0 134.3h0M406.0 72.9h0M400.7 127.4h0M400.0 172.1h0M398.4 149.2h0M411.6 82.9h0M389.8 75.0h0M389.5 89.8h0M399.0 148.8h0M387.9 103.2h0M393.9 85.8h0M423.5 65.2h0M401.7 194.3h0M411.8 135.0h0M413.7 110.2h0M412.6 107.8h0M417.1 137.5h0M401.9 93.5h0M384.7 91.6h0M385.1 80.3h0M411.5 73.7h0M389.4 91.2h0M410.8 170.9h0M385.9 79.4h0M408.8 80.9h0M403.7 79.4h0M392.4 153.5h0M409.0 142.0h0M393.4 95.4h0M417.9 124.1h0M386.6 70.2h0M420.9 107.0h0M402.2 203.9h0M401.3 195.4h0M404.5 103.7h0M405.1 175.3h0M403.0 101.9h0M397.2 159.1h0M413.1 164.7h0M413.9 146.4h0M423.6 81.5h0M422.7 88.7h0M402.3 127.0h0M405.9 147.0h0M392.8 149.6h0M414.1 113.5h0M414.6 80.3h0M391.0 121.4h0M416.3 104.6h0M397.8 68.4h0M404.8 123.5h0M410.8 76.3h0M409.9 118.6h0M389.8 62.9h0M399.7 173.4h0M417.4 95.3h0M394.0 117.8h0M423.7 96.3h0M420.9 129.3h0M392.0 145.3h0M423.4 99.9h0M405.3 91.3h0M384.1 67.2h0M405.9 138.0h0M418.9 91.2h0M417.5 82.0h0M408.7 116.6h0M409.8 175.7h0M420.4 126.0h0M407.9 149.1h0M400.7 87.2h0M394.0 167.3h0M395.0 120.3h0M401.1 65.7h0M409.6 85.4h0M392.0 99.8h0M401.8 171.3h0M412.2 125.7h0M400.1 95.2h0M412.4 60.5h0M413.4 144.6h0M398.6 211.3h0M412.5 86.7h0M396.1 104.9h0M406.9 162.4h0M397.7 175.6h0M401.1 160.7h0M391.9 73.8h0M405.3 173.2h0M415.1 98.3h0M404.9 101.1h0M412.1 115.3h0M405.1 123.4h0M385.1 68.5h0M395.4 94.8h0M404.9 88.0h0M398.9 95.0h0M398.7 190.6h0M418.6 70.4h0M398.3 122.8h0M386.8 63.7h0M392.8 123.7h0M404.9 194.6h0M393.0 87.8h0M407.5 175.4h0M399.5 143.4h0M404.9 180.2h0M411.5 156.1h0M384.4 65.1h0M402.5 157.7h0M394.4 158.1h0M390.2 80.6h0M402.3 131.9h0M408.7 61.7h0M397.2 153.1h0M405.0 153.1h0M419.3 78.9h0M394.3 185.7h0M404.5 186.9h0M387.4 139.8h0M394.8 65.2h0M398.8 65.3h0M393.1 130.5h0M421.6 106.5h0M417.2 70.9h0M410.2 66.0h0M408.2 186.0h0M400.0 205.2h0M390.7 110.6h0M395.2 142.7h0M415.5 154.4h0M400.0 174.4h0M416.0 118.8h0M395.1 147.1h0M406.5 60.4h0M418.2 132.4h0M419.5 108.1h0M402.2 141.0h0M388.3 121.5h0M404.5 182.2h0M419.4 145.3h0M424.6 67.6h0M393.3 136.3h0M391.9 65.2h0M399.8 156.7h0M418.4 68.0h0M401.1 103.4h0M409.8 82.9h0M383.4 60.1h0M403.2 137.3h0M417.5 79.6h0M401.0 187.3h0M404.6 166.4h0M406.0 178.5h0M403.9 137.9h0M403.2 123.4h0M405.4 70.5h0M418.2 118.0h0M422.7 73.8h0M404.9 97.1h0M390.8 84.9h0M386.4 80.3h0M393.6 91.2h0M405.1 77.4h0M396.5 132.0h0M418.0 134.7h0M415.6 128.8h0M403.1 104.7h0M420.9 100.4h0M397.1 124.6h0M400.2 189.6h0M404.7 89.3h0M395.7 123.0h0M405.0 108.0h0M403.3 146.9h0M405.9 98.7h0M390.3 148.1h0M394.3 183.8h0M400.0 180.4h0M394.5 84.3h0M418.9 113.2h0M415.1 121.1h0M394.1 128.3h0M410.6 135.2h0M416.5 141.5h0M397.4 193.0h0M397.6 102.1h0M393.7 95.6h0M404.8 123.7h0M385.6 80.6h0M399.9 116.9h0M401.1 107.7h0M398.5 91.3h0M408.1 156.7h0M395.8 124.4h0M406.1 72.3h0M388.0 97.8h0M391.2 139.0h0M398.5 172.3h0M405.1 198.7h0M406.3 176.0h0M415.8 81.6h0M404.4 83.3h0M403.2 171.1h0M406.1 154.8h0M389.5 92.7h0M395.9 156.9h0M397.8 212.0h0M403.1 68.1h0M404.4 139.1h0M394.1 89.8h0M394.5 187.2h0M407.9 147.5h0M397.0 149.0h0M407.2 99.5h0M417.8 83.7h0M406.7 70.3h0M422.9 60.5h0M387.6 116.2h0M387.4 90.8h0M405.7 75.3h0M388.2 97.9h0M402.2 71.5h0M411.7 121.7h0M389.7 121.5h0M396.5 147.2h0M405.4 75.2h0M390.9 129.0h0M403.3 206.4h0M403.8 96.4h0M386.9 111.3h0M395.6 70.0h0M388.5 69.4h0M411.2 95.2h0M410.9 131.0h0M395.2 189.4h0M421.8 71.9h0M391.0 143.6h0M407.1 102.0h0M395.5 155.9h0M421.8 99.2h0M410.3 141.2h0M394.3 133.3h0M391.2 103.7h0M408.2 180.8h0M406.7 64.0h0M386.6 92.0h0M402.6 206.4h0M405.5 140.0h0M420.9 120.7h0M399.6 177.1h0M412.0 171.3h0M419.5 109.9h0M416.4 140.5h0M398.1 115.2h0M404.6 184.6h0M386.2 103.3h0M412.0 160.5h0M400.6 83.8h0M386.4 113.8h0M422.7 66.1h0M411.4 144.1h0M413.6 91.4h0M385.9 110.5h0M403.9 98.1h0M403.2 100.1h0M392.9 116.5h0M393.6 178.8h0M413.3 112.4h0M388.0 110.6h0M411.7 142.1h0M386.6 85.2h0M395.7 103.4h0M414.5 83.9h0M404.5 190.6h0M406.1 175.7h0M402.1 151.2h0M417.1 91.1h0M417.9 121.3h0M404.9 113.6h0M397.5 92.8h0M418.8 64.8h0M400.8 153.2h0M402.7 92.2h0M396.6 103.5h0M386.5 122.4h0M400.7 200.4h0M385.2 72.7h0M401.8 63.3h0M392.1 165.9h0M399.8 102.8h0M412.4 69.9h0M397.1 110.2h0M405.5 120.2h0M421.9 105.3h0M407.9 65.6h0M410.1 158.7h0M386.8 76.9h0M399.9 100.0h0M414.9 72.5h0M422.1 67.0h0M408.8 70.7h0M404.2 130.1h0M400.7 213.1h0M415.9 129.9h0M395.4 181.2h0M396.5 154.7h0M388.2 137.4h0M419.9 110.5h0M393.5 165.3h0M403.4 188.5h0M416.4 132.6h0M396.5 66.8h0M406.6 189.4h0M412.5 169.7h0M395.0 193.6h0M387.0 113.8h0M396.2 115.7h0M398.0 175.4h0M411.6 84.9h0M408.2 77.3h0M407.6 162.6h0M406.1 160.7h0M407.6 138.3h0M403.9 100.9h0M390.7 146.9h0M408.2 107.8h0M382.7 67.7h0M411.1 132.4h0M396.4 101.1h0M409.5 175.8h0M411.9 138.2h0M417.5 91.9h0M398.3 69.7h0M400.9 135.9h0M414.7 163.0h0M392.8 123.3h0M415.7 136.0h0M411.6 115.3h0M389.3 77.9h0M400.0 151.3h0M415.4 99.4h0M406.8 96.9h0M407.0 82.1h0M414.6 79.2h0M408.4 126.5h0M393.3 153.8h0M404.7 178.1h0M404.3 98.9h0M384.4 64.7h0M403.9 98.9h0M416.0 135.0h0M417.7 102.4h0M410.7 126.6h0M390.0 151.5h0M416.4 79.5h0M383.4 63.1h0M404.6 62.0h0M392.4 164.4h0M392.8 138.7h0M391.8 160.9h0M397.6 194.2h0M401.9 60.4h0M387.5 77.1h0M391.2 124.9h0M408.3 116.4h0M400.3 159.8h0M405.9 144.5h0M394.4 76.4h0M403.8 60.8h0M409.6 76.3h0M405.0 124.5h0M396.6 67.3h0M415.3 132.4h0M390.5 95.1h0M413.7 159.3h0M396.5 166.3h0M411.5 101.7h0M391.1 158.8h0M402.6 67.8h0M400.8 160.3h0M384.5 66.4h0M391.1 100.4h0M403.2 198.4h0M408.6 177.9h0M414.3 138.2h0M414.9 119.0h0M405.3 68.4h0M387.8 81.9h0M405.7 99.1h0M391.5 89.7h0M385.2 99.9h0M413.4 91.0h0M405.8 134.6h0M395.6 143.6h0M404.2 71.6h0M392.7 78.9h0M387.9 121.5h0M420.2 96.8h0M414.1 141.4h0M396.1 158.1h0M391.7 118.5h0M407.2 70.2h0M406.2 111.4h0M388.5 81.4h0M407.0 155.9h0M388.1 132.2h0M406.5 68.2h0M399.9 138.9h0M397.6 189.9h0M387.9 119.7h0M396.5 129.6h0M399.7 88.1h0M396.2 193.7h0M405.1 145.0h0M402.3 60.2h0M418.4 116.6h0M404.3 106.6h0M415.8 76.2h0M414.2 90.0h0M389.5 94.8h0M401.1 93.8h0M405.5 157.8h0M392.9 145.6h0M422.9 70.3h0M387.7 94.5h0M421.0 110.2h0M395.1 77.3h0M402.6 94.8h0M402.7 210.9h0M401.5 65.0h0M417.6 89.7h0M385.5 75.3h0M404.9 136.7h0M383.7 71.2h0M414.8 162.1h0M397.7 83.6h0M420.4 61.5h0M389.7 99.0h0M406.8 114.9h0M395.5 100.0h0M411.9 80.1h0M412.6 128.5h0M401.0 68.0h0M394.9 157.9h0M403.5 97.9h0M413.4 71.9h0M396.5 117.1h0M418.0 86.8h0M417.0 85.2h0M406.4 142.6h0M389.5 118.0h0M404.4 171.4h0M415.2 139.7h0M405.0 79.1h0M387.2 115.9h0M417.2 92.2h0M405.6 92.7h0M387.7 79.1h0M414.9 128.3h0M394.9 63.1h0M393.0 74.1h0M409.3 153.2h0M393.6 82.8h0M407.3 118.5h0M391.5 149.8h0M400.5 198.6h0M411.3 104.2h0M412.8 96.8h0M408.4 112.9h0M398.6 111.4h0M394.1 93.5h0M405.8 94.5h0M415.8 73.3h0M408.8 96.4h0M418.4 73.4h0M399.7 131.6h0M405.4 144.1h0M402.8 188.0h0M391.7 83.4h0M403.5 202.3h0M415.3 83.8h0M421.8 91.6h0M417.5 84.5h0M394.7 180.1h0M395.9 133.8h0M422.9 92.1h0M418.0 145.0h0M385.8 86.2h0M388.9 111.8h0M386.7 101.8h0M393.9 159.6h0M407.9 102.3h0M406.8 159.2h0M416.8 64.2h0M415.7 126.0h0M397.0 78.6h0M398.8 135.2h0M391.5 91.3h0M393.7 124.6h0M417.5 95.8h0M414.1 111.1h0M399.9 100.4h0M409.4 62.2h0M389.2 115.1h0M397.2 113.9h0M390.1 121.5h0M401.6 66.7h0M401.8 153.9h0M397.7 99.2h0M391.6 104.0h0M404.1 207.0h0M418.3 131.4h0M401.8 184.4h0M404.5 178.2h0M418.1 90.5h0M393.5 60.6h0M394.5 96.4h0M394.9 124.8h0M412.3 126.1h0M408.1 111.9h0M397.7 74.1h0M407.2 86.7h0M418.8 133.3h0M416.7 104.7h0M396.1 199.9h0M413.0 70.7h0M398.2 110.8h0M389.5 75.1h0M423.2 64.5h0M406.0 167.6h0M405.2 75.2h0M401.7 92.8h0M415.1 152.9h0M388.2 78.6h0M413.0 63.7h0M411.5 127.0h0M406.4 138.8h0M409.2 97.0h0M400.5 131.4h0M402.8 105.4h0M402.8 140.1h0M392.0 165.5h0M422.2 69.9h0M399.2 118.9h0M403.2 176.5h0M396.3 190.0h0M393.8 70.0h0M419.2 86.2h0M387.6 89.0h0M411.5 77.2h0M416.6 111.4h0M399.9 212.0h0M392.0 141.3h0M419.4 147.7h0M397.6 208.5h0M415.4 93.3h0M383.4 62.9h0M391.0 114.7h0M402.9 188.3h0M415.8 101.9h0M409.9 155.8h0M389.1 76.6h0M393.8 88.3h0M422.6 103.5h0M424.2 80.3h0M404.1 157.3h0M412.2 140.6h0M394.5 116.6h0M396.8 205.0h0M401.6 97.6h0M400.4 178.6h0M394.9 111.9h0M403.2 201.0h0M390.2 148.6h0M404.0 122.1h0M394.3 167.8h0M396.1 113.8h0M400.1 101.1h0M402.6 182.1h0M394.5 175.9h0M395.2 162.0h0M409.1 65.9h0M417.7 97.4h0M405.4 199.5h0M401.9 126.0h0M399.1 144.9h0M402.8 86.0h0M413.5 112.7h0M410.9 133.5h0M402.7 107.5h0M394.5 75.7h0M390.2 102.3h0M414.2 68.7h0M400.5 78.6h0M414.8 131.2h0M403.1 185.5h0M405.6 161.6h0M389.8 104.6h0M403.4 63.9h0M419.5 113.3h0M392.4 68.0h0M413.3 142.6h0M392.1 60.5h0M404.5 125.1h0M409.1 119.0h0M407.7 100.4h0M408.8 128.9h0M412.9 79.9h0M399.8 94.4h0M418.8 139.9h0M406.5 75.5h0M416.4 139.2h0M393.6 88.8h0M396.4 81.2h0M402.8 122.8h0M423.6 73.5h0M416.9 109.7h0M420.5 95.3h0M398.7 88.0h0M405.3 92.4h0M397.0 88.9h0M412.4 172.4h0M405.7 191.8h0M410.0 159.0h0M393.6 124.1h0M392.5 165.9h0M403.0 184.8h0M421.9 88.4h0M391.4 114.2h0M414.3 151.1h0M411.8 167.2h0M409.1 97.7h0M421.4 124.5h0M401.0 139.5h0M400.8 203.3h0M399.0 160.1h0M407.0 70.1h0M398.0 142.9h0M402.0 76.6h0M395.0 190.3h0M410.0 130.0h0M402.6 122.3h0M409.3 166.0h0M397.4 159.7h0M402.1 140.8h0M408.3 174.8h0M410.2 106.0h0M395.2 185.6h0M388.2 68.3h0M420.9 134.9h0M414.7 147.0h0M394.0 100.2h0M399.9 161.5h0M395.4 187.4h0M401.5 75.0h0M389.0 100.3h0M405.1 198.6h0M390.7 89.0h0M399.7 130.1h0M397.0 103.1h0M411.4 145.1h0M398.4 161.3h0M422.5 93.2h0M415.3 96.5h0M394.7 60.0h0M409.1 131.7h0M387.8 79.2h0M418.0 63.4h0M395.6 71.5h0M384.6 89.4h0M413.3 80.0h0M404.7 184.7h0M400.6 159.8h0M389.8 144.2h0M392.3 152.6h0M392.4 126.4h0M393.8 136.8h0M408.8 144.7h0M422.7 104.6h0M390.9 135.2h0M409.9 122.6h0M415.8 65.5h0M389.7 93.4h0M393.7 179.7h0M411.1 145.1h0M389.0 93.7h0M414.5 97.4h0M387.1 74.5h0M388.2 126.4h0M419.9 115.6h0M403.1 93.3h0M394.9 156.6h0M398.7 186.1h0M406.7 77.1h0M401.8 78.1h0M394.6 137.4h0M388.6 129.5h0M421.1 71.7h0M393.4 87.3h0M397.9 182.2h0M397.2 146.2h0M406.9 107.8h0M390.4 67.2h0M411.2 120.6h0M386.5 78.1h0M395.1 129.3h0M393.9 66.1h0M384.7 67.4h0M385.5 105.1h0M423.7 66.0h0M393.3 86.7h0M422.1 96.1h0M400.6 68.8h0M387.4 100.0h0M396.9 87.8h0M392.7 168.3h0M407.6 173.5h0M396.6 132.3h0M394.7 115.9h0M411.8 132.7h0M408.3 106.0h0M400.5 71.7h0M420.3 109.0h0M420.0 139.6h0M397.3 123.2h0M405.8 185.5h0M417.9 147.7h0M399.0 103.4h0M402.5 151.2h0M394.7 136.3h0M399.3 76.3h0M405.6 174.2h0M389.8 77.4h0M387.6 108.8h0M398.5 64.0h0M415.8 135.4h0M399.7 133.0h0M403.8 156.9h0M399.4 92.7h0M401.6 136.5h0M410.7 114.2h0M387.6 130.4h0M395.6 146.2h0M421.5 63.9h0M410.6 130.9h0M412.2 99.9h0M390.0 89.2h0M402.8 132.7h0M413.0 136.8h0M390.1 137.7h0M408.1 111.3h0M415.8 135.8h0M408.4 70.3h0M416.5 84.1h0M403.3 116.1h0M405.7 89.9h0M401.4 204.6h0M410.9 92.7h0M422.3 78.5h0M403.4 204.3h0M395.4 194.7h0M422.8 92.5h0M391.5 103.0h0M390.1 154.8h0M389.7 146.7h0M403.4 128.1h0M406.3 150.5h0M416.5 109.1h0M415.0 83.7h0M415.7 118.6h0M383.3 70.5h0M414.9 156.9h0M410.5 151.8h0M414.3 149.8h0M390.1 62.0h0M404.2 113.0h0M406.5 63.5h0M414.2 94.0h0M389.8 134.2h0M390.9 147.3h0M399.7 179.6h0M387.5 117.8h0M392.0 139.2h0M401.2 179.5h0M417.2 126.0h0M406.8 138.7h0M398.1 110.1h0M401.6 131.8h0M388.3 62.6h0M418.4 101.4h0M395.5 63.3h0M414.3 95.0h0M396.6 124.6h0M396.7 105.8h0M405.2 71.4h0M397.1 205.9h0M419.4 136.2h0M387.6 123.3h0M415.8 90.9h0M415.1 72.4h0M401.7 104.6h0M416.0 99.3h0M410.1 156.3h0M421.1 125.8h0M416.8 96.5h0M391.0 133.1h0M395.1 172.8h0M401.0 88.4h0M386.8 103.3h0M402.7 135.7h0M409.1 93.6h0M415.5 102.5h0M390.8 117.4h0M400.0 119.7h0M392.7 102.0h0M416.8 111.5h0M423.9 60.4h0M409.8 94.2h0M398.0 161.3h0M421.6 126.2h0M406.3 166.0h0M419.8 100.2h0M416.4 130.5h0M421.8 118.1h0M389.1 98.9h0M420.1 135.1h0M394.7 77.5h0M400.6 77.6h0M404.9 105.7h0M408.3 128.5h0M395.9 133.7h0M410.5 82.5h0M415.6 149.6h0M409.3 142.3h0M392.1 82.1h0M406.4 188.7h0M416.1 147.4h0M396.0 125.5h0M389.5 121.1h0M418.3 60.9h0M423.1 63.1h0M395.0 78.3h0M423.4 79.9h0M419.3 66.4h0M397.5 190.7h0M389.4 76.4h0M393.5 121.3h0M416.0 93.9h0M402.6 114.6h0M415.8 151.5h0M395.5 186.0h0M404.5 157.2h0M412.4 90.2h0M388.4 124.7h0M396.6 177.0h0M418.2 152.4h0M403.8 197.5h0M402.5 75.6h0M400.9 135.9h0M414.2 111.3h0M394.5 144.4h0M399.0 119.0h0M402.3 62.6h0M403.8 183.1h0M398.9 143.5h0M404.3 73.0h0M388.7 98.0h0M402.3 161.5h0M409.9 167.6h0M390.5 137.7h0M409.0 148.3h0M407.7 92.6h0M400.0 96.4h0M414.3 120.7h0M402.2 87.6h0M423.4 96.8h0M386.5 95.2h0M408.2 68.0h0M386.0 81.8h0M422.0 96.6h0M407.3 120.3h0M407.1 150.2h0M416.5 153.8h0M400.3 208.4h0M412.5 149.9h0M408.8 167.0h0M420.2 138.3h0M408.1 152.7h0M420.9 76.8h0M415.9 141.2h0M396.8 187.3h0M389.5 98.6h0M421.8 61.6h0M391.5 145.1h0M403.7 77.5h0M394.1 133.0h0M393.0 78.6h0M394.9 69.8h0M402.7 168.9h0M399.0 76.6h0M401.0 60.5h0M410.9 112.7h0M391.1 78.4h0M408.1 162.0h0M395.4 121.3h0M404.1 150.3h0M399.5 97.6h0M416.3 95.8h0M404.6 96.6h0M412.2 152.9h0M397.8 177.2h0M420.5 139.3h0M420.8 86.4h0M412.4 113.8h0M415.3 82.0h0M419.6 95.0h0M409.1 127.1h0M395.5 145.3h0M411.7 133.8h0M405.3 193.2h0M410.3 157.5h0M401.1 194.6h0M407.2 160.7h0M393.1 74.2h0M393.0 168.2h0M390.8 79.7h0M404.1 176.4h0M409.3 172.1h0M413.2 73.5h0M396.2 81.0h0M400.2 177.1h0M408.9 179.2h0M416.1 136.5h0M401.4 166.7h0M402.6 91.4h0M400.3 164.0h0M420.6 126.6h0M415.0 107.0h0M417.6 151.5h0M387.4 132.6h0M389.4 122.0h0M396.8 73.0h0M390.1 148.9h0M396.8 191.8h0M398.8 121.7h0M417.0 64.0h0M413.3 154.0h0M404.4 99.3h0M407.7 136.4h0M412.9 164.8h0M404.9 199.9h0"/>
<path stroke="#ef9a26" stroke-width="2.5" stroke-linecap="round" fill="none" d="M401.5 119.9h0M403.1 91.5h0M404.8 95.0h0M405.7 114.5h0M399.8 102.6h0M402.3 89.6h0M400.6 77.1h0M406.1 61.0h0M403.5 68.1h0M398.3 77.5h0M399.7 95.7h0M403.2 128.8h0M401.5 104.5h0M398.4 68.5h0M405.9 100.4h0M400.1 89.5h0M403.7 92.0h0M406.6 112.9h0M402.5 61.7h0M404.7 113.9h0M402.3 78.6h0M403.0 86.6h0M405.8 82.0h0M405.4 137.0h0M400.3 100.3h0M406.1 93.5h0M400.2 88.2h0M403.9 103.9h0M405.8 128.6h0M405.5 103.7h0M400.6 76.6h0M405.7 111.5h0M400.0 88.3h0M406.1 103.7h0M404.3 63.1h0M403.9 130.0h0M401.0 69.1h0M398.7 70.6h0M405.8 60.0h0M405.8 100.1h0M401.3 101.7h0M403.4 71.3h0M406.0 128.4h0M404.5 129.8h0M403.1 130.7h0M402.9 74.3h0M400.9 106.9h0M405.8 62.2h0M404.5 82.9h0M402.2 106.1h0M398.7 89.8h0M402.6 80.1h0M403.6 82.9h0M405.5 115.4h0M400.5 61.5h0M401.7 79.3h0M398.9 91.8h0M406.5 83.5h0M406.1 70.6h0M403.1 71.7h0M406.1 77.5h0M399.5 90.1h0M405.1 77.8h0M402.0 104.4h0M405.3 92.2h0M405.3 62.2h0M406.0 99.1h0M399.4 103.1h0M399.8 83.5h0M404.1 72.7h0M406.2 85.8h0M406.0 95.1h0M400.0 81.5h0M403.8 137.9h0M404.7 134.1h0M405.8 94.7h0M397.8 60.1h0M401.5 72.1h0M399.9 80.7h0M397.7 62.0h0M399.9 91.8h0M400.1 81.5h0M403.9 77.9h0M403.6 108.1h0M404.4 85.0h0M403.6 66.6h0M405.2 90.6h0M398.7 73.3h0M403.4 100.9h0M404.6 101.4h0M400.5 109.2h0M400.0 77.9h0M404.8 134.8h0M400.4 108.7h0M404.1 121.9h0M412.1 83.3h0M413.7 83.0h0M408.4 79.8h0M410.1 96.7h0M409.8 85.1h0M413.2 88.7h0M415.3 62.2h0M413.9 92.4h0M412.7 88.8h0M408.8 63.8h0M412.4 97.6h0M413.2 68.0h0M415.7 79.5h0M416.1 64.0h0M409.3 70.6h0M412.4 79.9h0M412.1 60.1h0M409.0 86.7h0M408.0 71.3h0M415.9 76.9h0M412.8 70.4h0M415.9 60.3h0M409.2 67.0h0M414.2 101.2h0M408.6 75.2h0M413.5 74.7h0M409.2 77.7h0M412.7 75.2h0M410.6 83.7h0M410.2 91.0h0M411.6 87.6h0M412.5 103.1h0M410.1 72.2h0M408.1 79.1h0M413.1 81.0h0M414.8 63.1h0M415.5 73.0h0M410.6 110.0h0M413.9 93.9h0M415.0 88.0h0M408.9 69.5h0M408.4 81.1h0M412.2 104.8h0M413.1 106.5h0M413.3 77.5h0M413.1 82.1h0M412.1 85.8h0M410.3 61.3h0M415.9 66.3h0M411.9 82.8h0M415.5 75.7h0M413.5 73.8h0M411.0 103.3h0M410.5 78.8h0M411.9 105.8h0M415.8 66.8h0M409.2 77.0h0M413.4 106.0h0M416.2 71.5h0M412.4 77.0h0M412.7 72.0h0M412.6 102.1h0M409.9 107.4h0M416.1 78.2h0M410.6 106.2h0M412.4 93.6h0M408.8 110.0h0M408.7 99.9h0M411.6 83.1h0M414.9 95.3h0M410.3 60.9h0M412.5 89.4h0M414.7 98.5h0M413.4 96.2h0M410.0 69.9h0M408.0 88.1h0M407.6 61.0h0M416.1 70.0h0M413.7 105.3h0M407.8 70.0h0M389.1 70.5h0M390.8 83.3h0M396.8 65.8h0M398.3 89.3h0M397.8 72.2h0M390.3 87.2h0M389.5 86.7h0M396.0 72.3h0M396.9 77.7h0M391.4 83.0h0M391.9 94.6h0M396.4 74.1h0"/>
<path stroke="#000" stroke-width="2.5" stroke-linecap="round" fill="none" d="M423.3 101.0h0M421.3 129.8h0M422.3 133.8h0M421.8 141.0h0M420.5 137.0h0"/>
<path d="M407 49.3V267.4" stroke="#555" stroke-width="1.3"/>
<rect x="332.8" y="8.2" width="259.49999999999994" height="259.2" fill="none" stroke="#000" stroke-width="1"/>
<path d="M345.16 267.4v-6M345.16 8.2v6M357.51 267.4v-3M357.51 8.2v3M369.87 267.4v-3M369.87 8.2v3M382.23 267.4v-3M382.23 8.2v3M394.59 267.4v-3M394.59 8.2v3M406.94 267.4v-6M406.94 8.2v6M419.30 267.4v-3M419.30 8.2v3M431.66 267.4v-3M431.66 8.2v3M444.01 267.4v-3M444.01 8.2v3M456.37 267.4v-3M456.37 8.2v3M468.73 267.4v-6M468.73 8.2v6M481.09 267.4v-3M481.09 8.2v3M493.44 267.4v-3M493.44 8.2v3M505.80 267.4v-3M505.80 8.2v3M518.16 267.4v-3M518.16 8.2v3M530.51 267.4v-6M530.51 8.2v6M542.87 267.4v-3M542.87 8.2v3M555.23 267.4v-3M555.23 8.2v3M567.59 267.4v-3M567.59 8.2v3M579.94 267.4v-3M579.94 8.2v3M332.8 257.03h3M592.3 257.03h-3M332.8 246.66h3M592.3 246.66h-3M332.8 236.30h3M592.3 236.30h-3M332.8 225.93h3M592.3 225.93h-3M332.8 215.56h6.5M592.3 215.56h-6.5M332.8 205.19h3M592.3 205.19h-3M332.8 194.82h3M592.3 194.82h-3M332.8 184.46h3M592.3 184.46h-3M332.8 174.09h3M592.3 174.09h-3M332.8 163.72h6.5M592.3 163.72h-6.5M332.8 153.35h3M592.3 153.35h-3M332.8 142.98h3M592.3 142.98h-3M332.8 132.62h3M592.3 132.62h-3M332.8 122.25h3M592.3 122.25h-3M332.8 111.88h6.5M592.3 111.88h-6.5M332.8 101.51h3M592.3 101.51h-3M332.8 91.14h3M592.3 91.14h-3M332.8 80.78h3M592.3 80.78h-3M332.8 70.41h3M592.3 70.41h-3M332.8 60.04h6.5M592.3 60.04h-6.5M332.8 49.67h3M592.3 49.67h-3M332.8 39.30h3M592.3 39.30h-3M332.8 28.94h3M592.3 28.94h-3M332.8 18.57h3M592.3 18.57h-3" stroke="#000" stroke-width="1" fill="none"/>
<text x="328.2" y="271.00" text-anchor="end" class="tl tly">0</text>
<text x="328.2" y="219.16" text-anchor="end" class="tl tly">0.1</text>
<text x="328.2" y="167.32" text-anchor="end" class="tl tly">0.2</text>
<text x="328.2" y="115.48" text-anchor="end" class="tl tly">0.3</text>
<text x="328.2" y="63.64" text-anchor="end" class="tl tly">0.4</text>
<text x="328.2" y="11.80" text-anchor="end" class="tl tly">0.5</text>
<text x="345.16" y="278.8" text-anchor="middle" class="tl">0.5</text>
<text x="406.94" y="278.8" text-anchor="middle" class="tl">1</text>
<text x="468.73" y="278.8" text-anchor="middle" class="tl">1.5</text>
<text x="530.51" y="278.8" text-anchor="middle" class="tl">2</text>
<text x="592.30" y="278.8" text-anchor="middle" class="tl">2.5</text>
<text x="344.8" y="35.8" class="ti" textLength="106" lengthAdjust="spacingAndGlyphs">cluster candidate F126</text>
<text transform="translate(310.2,140) rotate(-90)" class="ax" text-anchor="middle">&#916;z</text>
<text x="449" y="286.5" class="ax">z<tspan class="sub" dy="2.6">centroid</tspan></text>
<text x="169.10" y="173.60" fill="#000" class="lr li">r</text>
<text x="173.70" y="176.20" fill="#000" class="lm">max</text>
<text x="190.20" y="173.60" fill="#000" class="lg">≤60″</text>
<text x="169.50" y="189.28" fill="#2ae2de" class="lg">60″</text>
<text x="190.20" y="189.28" fill="#2ae2de" class="lg lt">&lt;</text>
<text x="198.50" y="189.28" fill="#2ae2de" class="lr">r</text>
<text x="203.00" y="191.88" fill="#2ae2de" class="lm">max</text>
<text x="220.20" y="189.28" fill="#2ae2de" class="lg">≤72″</text>
<text x="169.70" y="204.96" fill="#1616b8" class="lg">72″</text>
<text x="190.00" y="204.96" fill="#1616b8" class="lg lt">&lt;</text>
<text x="198.60" y="204.96" fill="#1616b8" class="lr">r</text>
<text x="203.30" y="207.56" fill="#1616b8" class="lm">max</text>
<text x="220.20" y="204.96" fill="#1616b8" class="lg">≤90″</text>
<text x="169.80" y="220.64" fill="#d81a1a" class="lg">90″</text>
<text x="189.50" y="220.64" fill="#d81a1a" class="lg lt">&lt;</text>
<text x="198.10" y="220.64" fill="#d81a1a" class="lr">r</text>
<text x="203.20" y="223.24" fill="#d81a1a" class="lm">max</text>
<text x="220.20" y="220.64" fill="#d81a1a" class="lg">≤200″</text>
<text x="169.50" y="236.32" fill="#ef9a26" class="lg">200″</text>
<text x="194.70" y="236.32" fill="#ef9a26" class="lg lt">&lt;</text>
<text x="204.00" y="236.32" fill="#ef9a26" class="lr">r</text>
<text x="209.20" y="238.92" fill="#ef9a26" class="lm">max</text>
<text x="225.40" y="236.32" fill="#ef9a26" class="lg">≤230″</text>
<text x="169.50" y="252.00" fill="#7030b8" class="lr li">r</text>
<text x="178.90" y="252.00" fill="#7030b8" class="lg lt">&gt;</text>
<text x="188.70" y="252.00" fill="#7030b8" class="lg">230″</text>
<text x="468.60" y="86.80" fill="#000" class="lr li">r</text>
<text x="473.20" y="89.40" fill="#000" class="lm">max</text>
<text x="489.70" y="86.80" fill="#000" class="lg">≤60″</text>
<text x="469.00" y="102.30" fill="#2ae2de" class="lg">60″</text>
<text x="489.70" y="102.30" fill="#2ae2de" class="lg lt">&lt;</text>
<text x="498.00" y="102.30" fill="#2ae2de" class="lr">r</text>
<text x="502.50" y="104.90" fill="#2ae2de" class="lm">max</text>
<text x="519.70" y="102.30" fill="#2ae2de" class="lg">≤72″</text>
<text x="469.20" y="117.80" fill="#1616b8" class="lg">72″</text>
<text x="489.50" y="117.80" fill="#1616b8" class="lg lt">&lt;</text>
<text x="498.10" y="117.80" fill="#1616b8" class="lr">r</text>
<text x="502.80" y="120.40" fill="#1616b8" class="lm">max</text>
<text x="519.70" y="117.80" fill="#1616b8" class="lg">≤90″</text>
<text x="469.30" y="133.30" fill="#d81a1a" class="lg">90″</text>
<text x="489.00" y="133.30" fill="#d81a1a" class="lg lt">&lt;</text>
<text x="497.60" y="133.30" fill="#d81a1a" class="lr">r</text>
<text x="502.70" y="135.90" fill="#d81a1a" class="lm">max</text>
<text x="519.70" y="133.30" fill="#d81a1a" class="lg">≤200″</text>
<text x="469.00" y="148.80" fill="#ef9a26" class="lg">200″</text>
<text x="494.20" y="148.80" fill="#ef9a26" class="lg lt">&lt;</text>
<text x="503.50" y="148.80" fill="#ef9a26" class="lr">r</text>
<text x="508.70" y="151.40" fill="#ef9a26" class="lm">max</text>
<text x="524.90" y="148.80" fill="#ef9a26" class="lg">≤230″</text>
<text x="469.00" y="164.30" fill="#7030b8" class="lr li">r</text>
<text x="478.40" y="164.30" fill="#7030b8" class="lg lt">&gt;</text>
<text x="488.20" y="164.30" fill="#7030b8" class="lg">230″</text>
</svg></body></html>
